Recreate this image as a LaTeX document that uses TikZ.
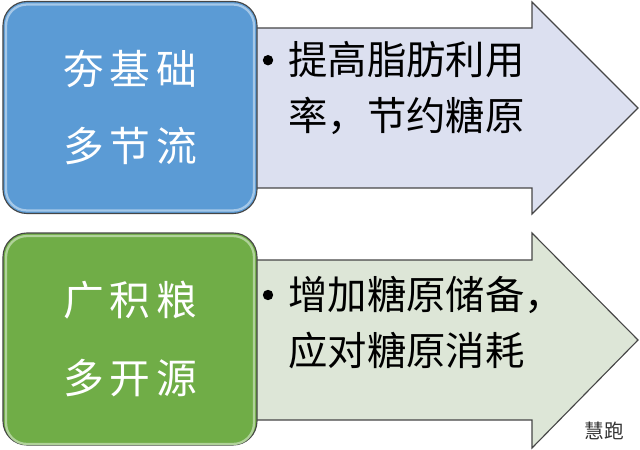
\documentclass[tikz,border=0pt]{standalone}
\usepackage{fontspec}
\setmainfont{Noto Sans CJK SC}
\newfontfamily\boxfont[LetterSpace=14]{Noto Sans CJK SC}
\usepackage{tikz}
\usetikzlibrary{positioning}

\definecolor{boxblue}{RGB}{91,155,213}
\definecolor{boxgreen}{RGB}{112,173,71}
\definecolor{arrblue}{RGB}{220,224,240}
\definecolor{arrgreen}{RGB}{221,230,215}
\definecolor{edge}{RGB}{70,70,70}

\begin{document}
\begin{tikzpicture}[
    line width=0.7pt,
    % --- box styles ---
    box/.style={draw=edge, rounded corners=0.6cm, minimum width=6.35cm, minimum height=5.3cm,
                align=center, text=white, inner sep=0pt, line width=0.8pt,
                font=\boxfont\fontsize{29pt}{55pt}\selectfont},
    hilite/.style={rounded corners=0.52cm, line width=1.6pt},
    % --- arrow styles ---
    arrbody/.style={draw=edge, line width=0.8pt},
    % --- text styles ---
    itm/.style={anchor=west, align=left, inner sep=0pt,
                font=\fontsize{28pt}{40pt}\selectfont},
    dot/.style={circle, fill=black, inner sep=0pt, minimum size=0.26cm},
    credit/.style={font=\fontsize{14pt}{16pt}\selectfont, text=black!80, inner sep=0pt},
]

%% =====================================================================
%%  COORDINATES (cm)
%%  Cols:  0.075--6.425 = label box | 6.3--13.3 = arrow shaft | 15.95 = tip
%%  Rows:  top row 5.9--11.175 | bottom row 0.05--5.35
%% =====================================================================
\useasboundingbox (0,0) rectangle (16,11.225);

%% ---- ARROWS (drawn before boxes) ----
\draw[arrbody, fill=arrblue]
    (6.3,10.525) -- (13.3,10.525) -- (13.3,11.175) -- (15.95,8.525)
    -- (13.3,5.875) -- (13.3,6.525) -- (6.3,6.525) -- cycle;
\draw[arrbody, fill=arrgreen]
    (6.3,4.725) -- (13.3,4.725) -- (13.3,5.40) -- (15.95,2.725)
    -- (13.3,0.025) -- (13.3,0.725) -- (6.3,0.725) -- cycle;

%% ---- LABEL BOXES ----
\node[box, fill=boxblue] (save) at (3.25,8.5375) {夯基础\\多节流};
\draw[hilite, draw=boxblue!55!white]
    ([shift={(0.09,0.09)}]save.south west) rectangle ([shift={(-0.09,-0.09)}]save.north east);

\node[box, fill=boxgreen] (store) at (3.25,2.75) {广积粮\\多开源};
\draw[hilite, draw=boxgreen!55!white]
    ([shift={(0.09,0.04)}]store.south west) rectangle ([shift={(-0.09,-0.09)}]store.north east);

%% ---- BULLET TEXT ----
\node[itm] (fat) at (7.20,9.02) {提高脂肪利用\\率，节约糖原};
\node[dot] (dfat) at (6.70,9.72) {};

\node[itm] (gly) at (7.20,3.16) {增加糖原储备，\\应对糖原消耗};
\node[dot] (dgly) at (6.70,3.85) {};

%% ---- WATERMARK ----
\node[credit] (src) at (15.10,0.46) {慧跑};

\end{tikzpicture}
\end{document}
